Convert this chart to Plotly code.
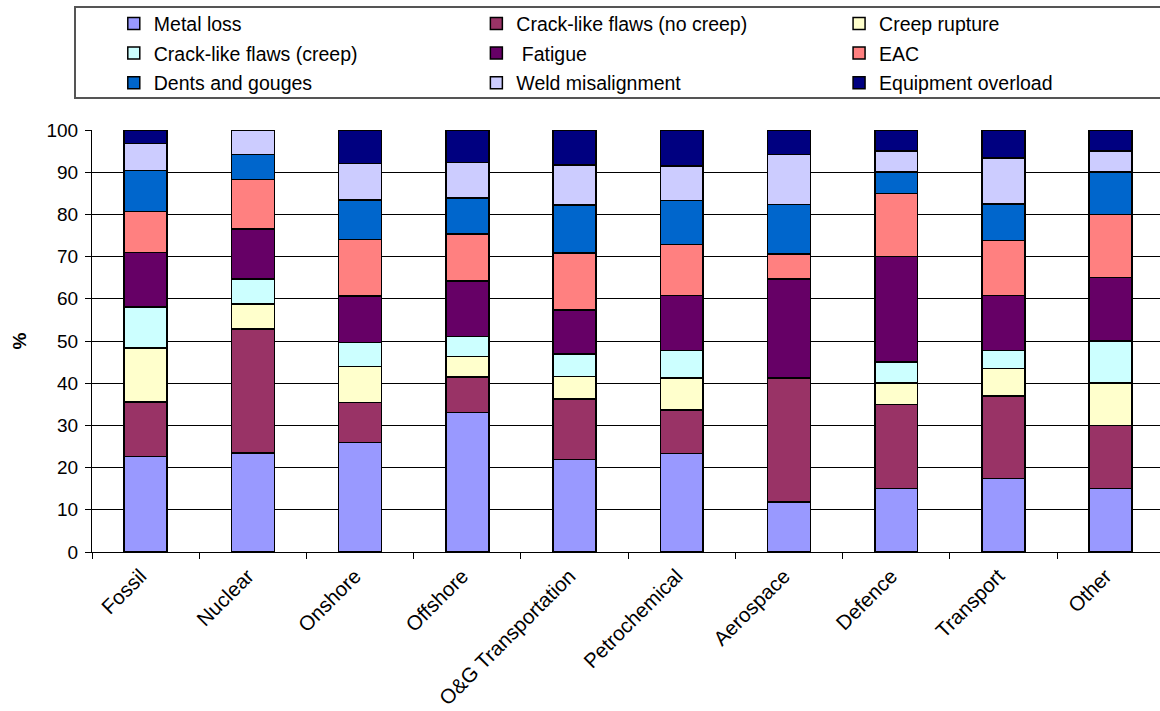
import plotly.graph_objects as go

# Industry sectors on the x axis
sectors = ["Fossil", "Nuclear", "Onshore", "Offshore", "O&G Transportation",
           "Petrochemical", "Aerospace", "Defence", "Transport", "Other"]

# Percentage share of each failure mechanism per sector (bottom to top of stack)
metal_loss          = [22.6, 23.5, 26.0, 33.1, 21.9, 23.3, 11.8, 15.0, 17.4, 15.0]
crack_no_creep      = [12.9, 29.4,  9.4,  8.4, 14.4, 10.4, 29.4, 20.0, 19.6, 15.0]
creep_rupture       = [12.9,  5.9,  8.6,  4.8,  5.3,  7.5,  0.0,  5.0,  6.5, 10.0]
crack_creep         = [ 9.7,  5.9,  5.6,  4.8,  5.3,  6.5,  0.0,  5.0,  4.3, 10.0]
fatigue             = [12.9, 11.8, 11.1, 13.1, 10.5, 13.1, 23.5, 25.0, 13.0, 15.0]
eac                 = [ 9.7, 11.8, 13.4, 11.2, 13.4, 12.1,  5.9, 15.0, 13.0, 15.0]
dents_gouges        = [ 9.7,  5.9,  9.3,  8.5, 11.4, 10.4, 11.8,  5.0,  8.7, 10.0]
weld_misalignment   = [ 6.4,  5.8,  8.7,  8.4,  9.5,  8.2, 11.8,  5.0, 10.9,  5.0]
equipment_overload  = [ 3.2,  0.0,  7.9,  7.7,  8.3,  8.5,  5.8,  5.0,  6.6,  5.0]

series = [
    ("Metal loss", metal_loss, "#9999FF"),
    ("Crack-like flaws (no creep)", crack_no_creep, "#993366"),
    ("Creep rupture", creep_rupture, "#FFFFCC"),
    ("Crack-like flaws (creep)", crack_creep, "#CCFFFF"),
    (" Fatigue", fatigue, "#660066"),
    ("EAC", eac, "#FF8080"),
    ("Dents and gouges", dents_gouges, "#0066CC"),
    ("Weld misalignment", weld_misalignment, "#CCCCFF"),
    ("Equipment overload", equipment_overload, "#000080"),
]

FONT = "Liberation Sans, Arial, sans-serif"

fig = go.Figure()
legend_ids = ["legend", "legend2", "legend3"]
for i, (name, vals, color) in enumerate(series):
    fig.add_trace(go.Bar(
        x=sectors, y=vals, name=name,
        marker=dict(color=color, line=dict(color="black", width=1.5)),
        width=0.4,
        legend=legend_ids[i % 3],
        legendgroup=name,
    ))

# Three legend columns laid out across the top
legend_common = dict(
    orientation="v", traceorder="grouped", tracegroupgap=1.3,
    bgcolor="rgba(0,0,0,0)", borderwidth=0,
    font=dict(family=FONT, size=19.5, color="black"),
    xanchor="left", yanchor="top", y=1.298, itemclick=False,
)
legend_x = [0.0204, 0.3599, 0.6995]

fig.update_layout(
    width=1160, height=711,
    margin=dict(l=92, r=0, t=130, b=159, autoexpand=False),
    paper_bgcolor="white", plot_bgcolor="white",
    barmode="stack",
    font=dict(family=FONT, size=19, color="black"),
    legend=dict(legend_common, x=legend_x[0]),
    legend2=dict(legend_common, x=legend_x[1]),
    legend3=dict(legend_common, x=legend_x[2]),
    xaxis=dict(
        range=[-0.5, 9.46], tickangle=-45, showline=True, linecolor="black",
        linewidth=1, ticks="outside", tickson="boundaries", ticklen=6,
        tickcolor="black", showgrid=False, tickfont=dict(size=20.5),
        ticklabelstandoff=3, ticklabelshift=-5,
    ),
    yaxis=dict(
        range=[0, 100], dtick=10, showline=True, linecolor="black", linewidth=1,
        ticks="outside", ticklen=6, tickcolor="black", showgrid=True,
        gridcolor="black", gridwidth=1, tickfont=dict(size=19),
        ticklabelstandoff=3,
        title=dict(text="<b>%</b>", font=dict(size=19), standoff=14),
        zeroline=False,
    ),
    shapes=[dict(
        type="rect", xref="paper", yref="paper",
        x0=(75 - 92) / 1068, x1=1.2, y0=(552 - 98) / 422, y1=(552 - 7) / 422,
        line=dict(color="#555555", width=2), fillcolor="rgba(0,0,0,0)",
        layer="below",
    )],
)

fig.write_html("out.html")
